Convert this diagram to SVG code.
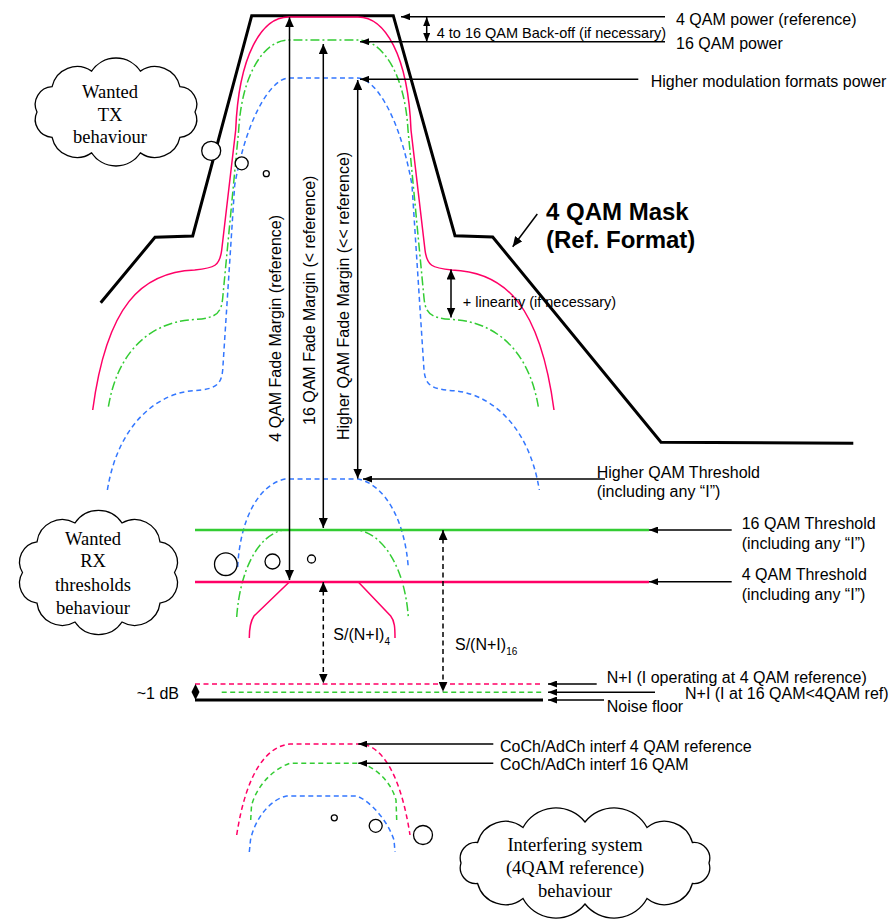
<svg xmlns="http://www.w3.org/2000/svg" width="890" height="922" viewBox="0 0 890 922">
<defs>
<style>
.t{font-family:"Liberation Sans",Arial,sans-serif;font-size:16px;fill:#000}
.ts{font-size:14.5px}
.c{font-family:"Liberation Serif","Times New Roman",serif;font-size:18.5px;text-anchor:middle;fill:#000}
.b{font-family:"Liberation Sans",Arial,sans-serif;font-size:24px;font-weight:bold;fill:#000}
.ln{stroke:#000;stroke-width:1.5;fill:none}
.ld{stroke:#000;stroke-width:1.5;fill:none;stroke-dasharray:5 3.5}
.cl{fill:#fff;stroke:#000;stroke-width:1.3}
.pk{stroke:#FF0066;fill:none;stroke-width:1.5}
.gr{stroke:#33CC33;fill:none;stroke-width:1.5}
.bl{stroke:#3377FF;fill:none;stroke-width:1.5}
.dd{stroke-dasharray:9 3 2 3}
.ds{stroke-dasharray:5 3.5}
.thr{stroke-width:2.4}
.la{marker-end:url(#s)}
.db{marker-start:url(#L);marker-end:url(#L)}
</style>
<marker id="L" markerUnits="userSpaceOnUse" markerWidth="10" markerHeight="9" viewBox="0 0 10 9" refX="10" refY="4.5" orient="auto-start-reverse"><path d="M0,0 L10,4.5 L0,9 z" fill="#000"/></marker>
<marker id="s" markerUnits="userSpaceOnUse" markerWidth="9" markerHeight="7" viewBox="0 0 9 7" refX="9" refY="3.5" orient="auto-start-reverse"><path d="M0,0 L9,3.5 L0,7 z" fill="#000"/></marker>
</defs>
<rect width="890" height="922" fill="#fff"/>

<g id="mask">
<polyline points="100.7,302.7 155,237.3 192.7,236 251.7,15.7 393.3,15.7 455,235.7 492.7,237 661,442.3 853.3,443.3" fill="none" stroke="#000" stroke-width="3"/>
</g>

<g id="tx-4qam">
<path class="pk" d="M92.7 410 C106.7 305,141.7 272,194.7 270 C214.7 268,219.7 266,221.7 250 L235.7 130 C238.7 55,261.7 17,288.7 17 L358 17 C385 17,408 55,411 130 L425 250 C427 266,432 268,452 270 C505 272,540 305,554 410"/>
</g>
<g id="tx-16qam">
<path class="gr dd" d="M108.4 406.7 C118.7 345,156.7 321,194.7 319.5 C215.7 318,221.2 314,222.7 298 L238.7 130 C241.7 75,263.7 40,288.7 40 L358 40 C383 40,405 75,408 130 L424 298 C425.5 314,431 318,452 319.5 C490 321,528 345,538.3 406.7"/>
</g>
<g id="tx-higher">
<path class="bl ds" d="M107.4 490 C118.7 420,161.7 392,194.7 390.7 C215.7 389,221.2 385,222.7 370 L234.7 185 C248.7 108,274.7 78,288.7 78 L358 78 C372 78,398 108,412 185 L424 370 C425.5 385,431 389,452 390.7 C485 392,528 420,539.3 490"/>
</g>

<g id="rx-thresholds">
<path class="bl ds" d="M237.7 567 C240 520,258 485,285 479 L358.3 479 C385 485,405 520,408.3 568"/>
<line x1="195" y1="530" x2="649" y2="530" class="gr thr"/>
<path class="gr dd" d="M236.7 617 C240 570,258 535,283.3 530 L358.3 530 C385 535,405 570,408.3 617"/>
<line x1="195" y1="582" x2="649" y2="582" class="pk thr"/>
<path class="pk" d="M249.3 638 C249.3 628,250 622,254 616 L289.3 582 L358.3 582 L390.7 616 C394.7 621,395 628,395 638"/>
<line x1="195" y1="684" x2="543" y2="684" class="pk ds" stroke-width="1.2"/>
<line x1="221.7" y1="692.3" x2="543" y2="692.3" class="gr ds" stroke-width="1.2"/>
<line x1="195" y1="700" x2="543" y2="700" stroke="#000" stroke-width="3"/>
</g>

<g id="interferer">
<path class="pk ds" d="M236.7 835 C246.7 770,268 746,290 744 L361.7 744 C380 746,400 770,410 835"/>
<path class="gr ds" d="M250.7 820 L251.5 806 C255 790,270 770,290 763.3 L361.7 763.3 C380 770,392 785,396 800 L396.7 820"/>
<path class="bl ds" d="M249.3 852 L250.5 840 C254 822,268 800,286.7 796 L356.7 796 C372 802,388 822,394 840 L395 852"/>
</g>

<g id="cloud-tx">
<path class="cl" d="M37 112 A17.7 17.7 0 0 1 52.1 86.7 A25.5 25.5 0 0 1 91.6 71.1 A29.3 29.3 0 0 1 140.4 71.1 A25.5 25.5 0 0 1 179.9 86.7 A17.7 17.7 0 0 1 195 112 A17.7 17.7 0 0 1 179.9 137.3 A25.5 25.5 0 0 1 140.4 152.9 A29.3 29.3 0 0 1 91.6 152.9 A25.5 25.5 0 0 1 52.1 137.3 A17.7 17.7 0 0 1 37 112 Z"/>
<text class="c" x="110" y="97.7">Wanted</text>
<text class="c" x="110" y="121">TX</text>
<text class="c" x="110" y="143.3">behaviour</text>
<circle class="cl" cx="211.2" cy="150.8" r="9.5"/>
<circle class="cl" cx="241.7" cy="163.3" r="6.5"/>
<circle class="cl" cx="266.3" cy="173.7" r="3"/>
</g>

<g id="cloud-rx">
<path class="cl" d="M22.5 572.5 A20.3 20.3 0 0 1 37 541.9 A25.5 25.5 0 0 1 75 523 A28.2 28.2 0 0 1 122 523 A25.5 25.5 0 0 1 160 541.9 A20.3 20.3 0 0 1 174.5 572.5 A20.3 20.3 0 0 1 160 603.1 A25.5 25.5 0 0 1 122 622 A28.2 28.2 0 0 1 75 622 A25.5 25.5 0 0 1 37 603.1 A20.3 20.3 0 0 1 22.5 572.5 Z"/>
<text class="c" x="93" y="545">Wanted</text>
<text class="c" x="93" y="567.3">RX</text>
<text class="c" x="93" y="590.7">thresholds</text>
<text class="c" x="93" y="614">behaviour</text>
<circle class="cl" cx="225.8" cy="564.2" r="11.3"/>
<circle class="cl" cx="272.5" cy="561.5" r="7.5"/>
<circle class="cl" cx="311.5" cy="559" r="4"/>
</g>

<g id="cloud-interf">
<path class="cl" d="M461 863 A15.8 15.8 0 0 1 477.6 842.5 A28.7 28.7 0 0 1 523 827.5 A37.3 37.3 0 0 1 585 822 A37.3 37.3 0 0 1 647 827.5 A28.7 28.7 0 0 1 692.4 842.5 A15.8 15.8 0 0 1 709 863 A15.8 15.8 0 0 1 692.4 883.5 A28.7 28.7 0 0 1 647 898.5 A37.3 37.3 0 0 1 585 904 A37.3 37.3 0 0 1 523 898.5 A28.7 28.7 0 0 1 477.6 883.5 A15.8 15.8 0 0 1 461 863 Z"/>
<text class="c" x="575" y="851">Interfering system</text>
<text class="c" x="575" y="874">(4QAM reference)</text>
<text class="c" x="575" y="896.7">behaviour</text>
<circle class="cl" cx="334.3" cy="817.8" r="3"/>
<circle class="cl" cx="375.7" cy="825.8" r="6.5"/>
<circle class="cl" cx="423" cy="835" r="9.5"/>
</g>

<g id="connectors">
<line class="ln db" x1="289.5" y1="17.3" x2="289.5" y2="580"/>
<line class="ln db" x1="323.3" y1="44" x2="323.3" y2="528"/>
<line class="ln db" x1="357.7" y1="80" x2="357.7" y2="478.5"/>
<line class="ln la" x1="665" y1="16.7" x2="401" y2="16.7"/>
<line class="ln" x1="426.7" y1="17" x2="426.7" y2="42" marker-start="url(#s)" marker-end="url(#s)"/>
<line class="ln la" x1="665" y1="41.7" x2="360" y2="41.7"/>
<line class="ln la" x1="638.3" y1="79.3" x2="360" y2="79.3"/>
<line class="ln" x1="537.3" y1="214" x2="512.7" y2="246.7" marker-end="url(#L)"/>
<line class="ln db" x1="451" y1="269.5" x2="451" y2="317.5"/>
<line class="ln la" x1="605" y1="479" x2="363" y2="479"/>
<line class="ln la" x1="731.7" y1="530" x2="649" y2="530"/>
<line class="ln la" x1="731.7" y1="581.7" x2="649" y2="581.7"/>
<line class="ld db" x1="323.3" y1="582" x2="323.3" y2="683.5"/>
<line class="ld db" x1="443" y1="530" x2="443" y2="691.7"/>
<line class="ln la" x1="596.7" y1="684" x2="548" y2="684"/>
<line class="ln la" x1="655" y1="692.3" x2="548" y2="692.3"/>
<line class="ln la" x1="604" y1="700" x2="548" y2="700"/>
<line class="ln la" x1="493.3" y1="744" x2="358.3" y2="744"/>
<line class="ln la" x1="493.3" y1="763.3" x2="358.3" y2="763.3"/>
<polygon points="195.5,684 199.5,692 195.5,700 191.5,692" fill="#000"/>
</g>

<g id="labels">
<text class="t" x="676" y="25">4 QAM power (reference)</text>
<text class="t ts" x="436.7" y="37.5">4 to 16 QAM Back-off (if necessary)</text>
<text class="t" x="676" y="49.3">16 QAM power</text>
<text class="t" x="650.7" y="87.3">Higher modulation formats power</text>
<text class="b" x="546" y="219.5">4 QAM Mask</text>
<text class="b" x="546" y="248">(Ref. Format)</text>
<text class="t ts" x="462.7" y="307">+ linearity (if necessary)</text>
<text class="t" transform="translate(281,441.7) rotate(-90)">4 QAM Fade Margin (reference)</text>
<text class="t" transform="translate(315,425) rotate(-90)">16 QAM Fade Margin (&lt; reference)</text>
<text class="t" transform="translate(349,440) rotate(-90)">Higher QAM Fade Margin (&lt;&lt; reference)</text>
<text class="t" x="596.7" y="478.3">Higher QAM Threshold</text>
<text class="t" x="596.7" y="497">(including any “I”)</text>
<text class="t" x="741.7" y="529.3">16 QAM Threshold</text>
<text class="t" x="741.7" y="548.5">(including any “I”)</text>
<text class="t" x="741.7" y="580">4 QAM Threshold</text>
<text class="t" x="741.7" y="599.5">(including any “I”)</text>
<text class="t" x="333.3" y="640">S/(N+I)<tspan font-size="10" dy="5">4</tspan></text>
<text class="t" x="455" y="650">S/(N+I)<tspan font-size="10" dy="5">16</tspan></text>
<text class="t" x="606.7" y="682.7">N+I (I operating at 4 QAM reference)</text>
<text class="t" x="685" y="699.3">N+I (I at 16 QAM&lt;4QAM ref)</text>
<text class="t" x="606.7" y="711.7">Noise floor</text>
<text class="t" x="136.7" y="699.3" font-size="15">~1 dB</text>
<text class="t" x="500" y="751.5">CoCh/AdCh interf 4 QAM reference</text>
<text class="t" x="500" y="770">CoCh/AdCh interf 16 QAM</text>
</g>
</svg>
